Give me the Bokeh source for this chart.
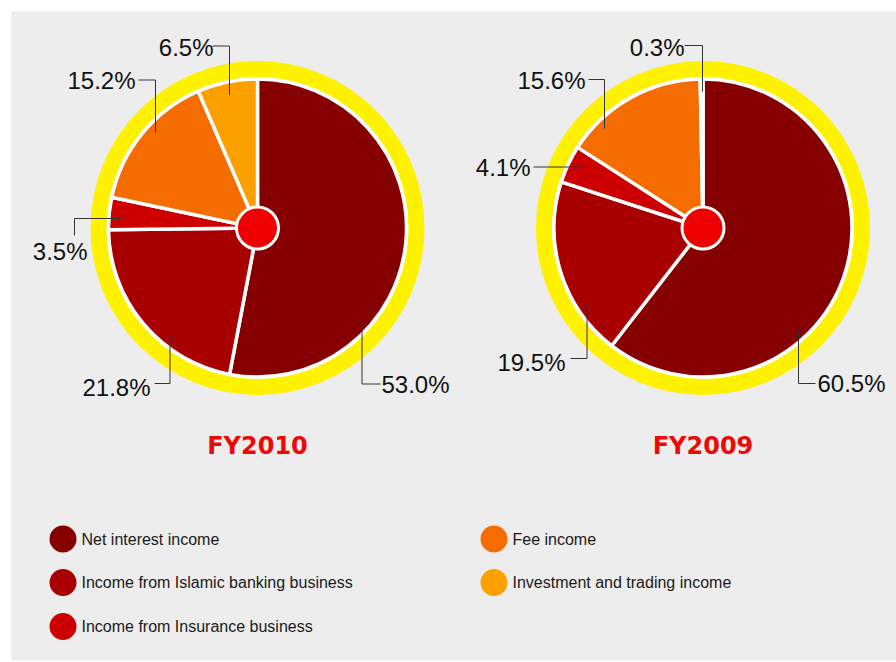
import numpy as np
from bokeh.plotting import figure
from bokeh.models import Range1d, ColumnDataSource
from bokeh.core.properties import value
from bokeh.embed import file_html
from bokeh.resources import INLINE

# ---------------- data ----------------
categories = ["Net interest income",
              "Income from Islamic banking business",
              "Income from Insurance business",
              "Fee income",
              "Investment and trading income"]
fy2010 = [53.0, 21.8, 3.5, 15.2, 6.5]
fy2009 = [60.5, 19.5, 4.1, 15.6, 0.3]
years = ["FY2010", "FY2009"]
series = [fy2010, fy2009]

# ---------------- style / layout ----------------
colors = ["#870000", "#a80000", "#cc0000", "#f56d00", "#fca000"]
BG = "#ededed"
YELLOW = "#fff200"
CENTER_RED = "#ee0000"
TITLE_RED = "#ee0808"
LINE_CLR = "#333333"
LABEL_FONT = "Liberation Sans"

centers = [(257.0, 227.5), (702.5, 227.5)]   # screen px
R_YELLOW, R_WHITE, R_PIE, R_HUB = 167, 151, 149, 21

# leader lines (screen px) and label anchors, per pie, per category
leaders = [
    [[(361.5, 322), (361.5, 383.5), (380, 383.5)],
     [(169.5, 334), (169.5, 383), (154, 383)],
     [(122, 218), (74, 218), (74, 235)],
     [(155, 132), (155, 79.5), (138, 79.5)],
     [(229, 94.5), (229, 45.5), (212, 45.5)]],
    [[(798, 330), (798, 383), (815, 383)],
     [(586.5, 303), (586.5, 358), (570, 358)],
     [(582, 166.5), (533, 166.5)],
     [(604, 128), (604, 79), (588, 79)],
     [(702, 91), (702, 45), (684, 45)]],
]
label_anchor = [
    [(381, 384, "left"), (150, 386.5, "right"), (87, 251, "right"),
     (135, 80, "right"), (213, 47, "right")],
    [(817, 383, "left"), (565, 362, "right"), (530, 167, "right"),
     (585, 80, "right"), (684, 46.5, "right")],
]
title_y = 445
legend_cols = [62.5, 62.5, 62.5, 493.5, 493.5]
legend_rows = [538.5, 582, 626, 538.5, 582]

W, H = 896, 662
ML, MT, MB = 11, 11, 2

p = figure(width=W, height=H, output_backend="svg", toolbar_location=None,
           x_axis_location=None, y_axis_location=None,
           x_range=Range1d(ML, W), y_range=Range1d(-(H - MB), -MT),
           min_border_left=ML, min_border_top=MT, min_border_right=0,
           min_border_bottom=MB,
           background_fill_color=BG, border_fill_color="white",
           outline_line_color=None)
p.grid.visible = False

def Y(py):
    return -py

for k, vals in enumerate(series):
    cx, cy = centers[k]
    p.circle(x=[cx], y=[Y(cy)], radius=R_YELLOW, fill_color=YELLOW, line_color=None)
    p.circle(x=[cx], y=[Y(cy)], radius=R_WHITE, fill_color="white", line_color=None)

    fr = np.array(vals) / np.sum(vals)
    c1 = np.cumsum(fr)
    c0 = c1 - fr
    src = ColumnDataSource(dict(
        start=np.pi / 2 - 2 * np.pi * c1,
        end=np.pi / 2 - 2 * np.pi * c0,
        color=colors,
        cat=categories))
    p.wedge(x=cx, y=Y(cy), radius=R_PIE, start_angle="start", end_angle="end",
            direction="anticlock", fill_color="color", line_color="white",
            line_width=3.5, source=src)
    p.circle(x=[cx], y=[Y(cy)], radius=R_HUB, fill_color=CENTER_RED,
             line_color="white", line_width=3)

    # leader lines + labels
    for i, v in enumerate(vals):
        pts = leaders[k][i]
        p.line(x=[q[0] for q in pts], y=[Y(q[1]) for q in pts],
               line_color=LINE_CLR, line_width=1)
        lx, ly, al = label_anchor[k][i]
        p.text(x=[lx], y=[Y(ly)], text=[f"{v:.1f}%"], text_align=al,
               text_baseline="middle", text_font=value(LABEL_FONT),
               text_font_size="24px", text_color="#111111")

    p.text(x=[cx], y=[Y(title_y)], text=[years[k]], text_align="center",
           text_baseline="middle", text_font=value("DejaVu Sans"),
           text_font_style="bold", text_font_size="24px", text_color=TITLE_RED)

# legend
p.circle(x=legend_cols, y=[Y(r) for r in legend_rows], radius=13.5,
         fill_color=colors, line_color=None)
p.text(x=[c + 18.5 for c in legend_cols], y=[Y(r) for r in legend_rows],
       text=categories, text_align="left", text_baseline="middle",
       text_font=value(LABEL_FONT), text_font_size="16px", text_color="#1a1a1a")

open("out.html", "w").write(file_html(p, INLINE))
